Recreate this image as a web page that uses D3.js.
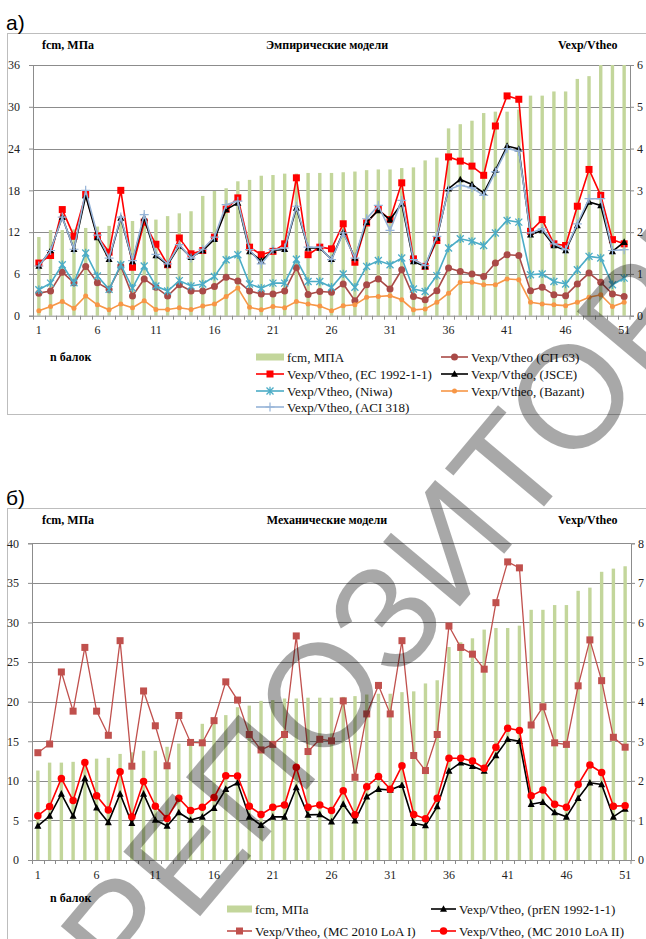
<!DOCTYPE html>
<html>
<head>
<meta charset="utf-8">
<script src="https://cdn.jsdelivr.net/npm/d3@7"></script>
<style>
  body { margin: 0; background: #fff; }
  svg { display: block; }
  text { font-family: 'Liberation Serif', 'Times New Roman', serif; }
</style>
</head>
<body>
<div id="chart_container"></div>
<script>
// categories (beam numbers)
const beams = d3.range(1, 52);
const xTickLabels = [1, 6, 11, 16, 21, 26, 31, 36, 41, 46, 51];

// axis ticks
const leftTicksA = [0, 6, 12, 18, 24, 30, 36];
const rightTicksA = [0, 1, 2, 3, 4, 5, 6];
const leftTicksB = [0, 5, 10, 15, 20, 25, 30, 35, 40];
const rightTicksB = [0, 1, 2, 3, 4, 5, 6, 7, 8];

// fcm, MPa (bars, same for both panels)
const fcm = [11.3, 12.3, 12.3, 12.4, 12.6, 12.8, 12.9, 13.4, 13.6, 13.8,
  13.8, 14.3, 14.7, 15.0, 17.2, 17.9, 18.3, 19.3, 19.5, 20.1,
  20.2, 20.4, 20.4, 20.5, 20.5, 20.5, 20.6, 20.7, 20.9, 21.0,
  21.0, 21.2, 21.3, 22.3, 22.7, 26.9, 27.5, 28.0, 29.1, 29.3,
  29.3, 29.6, 31.6, 31.6, 32.2, 32.2, 34.0, 34.4, 36.4, 36.8, 37.1];

// panel a) empirical models, Vexp/Vtheo
const sp63 = [0.54, 0.59, 1.04, 0.79, 1.18, 0.79, 0.63, 1.19, 0.47, 0.88,
  0.68, 0.47, 0.74, 0.59, 0.59, 0.70, 0.92, 0.83, 0.59, 0.52,
  0.52, 0.59, 1.15, 0.51, 0.58, 0.56, 0.76, 0.36, 0.74, 0.88,
  0.64, 1.10, 0.46, 0.38, 0.60, 1.14, 1.06, 1.00, 0.94, 1.26,
  1.46, 1.44, 0.60, 0.68, 0.50, 0.48, 0.76, 1.02, 0.80, 0.52, 0.46];
const ec2 = [1.26, 1.44, 2.54, 1.90, 2.90, 1.91, 1.52, 3.00, 1.16, 2.24,
  1.71, 1.22, 1.86, 1.48, 1.56, 1.88, 2.55, 2.82, 1.64, 1.46,
  1.54, 1.72, 3.30, 1.46, 1.64, 1.60, 2.20, 1.28, 2.22, 2.54,
  2.30, 3.18, 1.36, 1.18, 1.80, 3.80, 3.70, 3.58, 3.36, 4.54,
  5.26, 5.18, 2.02, 2.30, 1.72, 1.68, 2.62, 3.50, 2.88, 1.82, 1.72];
const jsce = [1.19, 1.56, 2.36, 1.59, 2.87, 1.87, 1.35, 2.34, 1.30, 2.34,
  1.44, 1.22, 1.67, 1.40, 1.56, 1.83, 2.54, 2.70, 1.54, 1.31,
  1.56, 1.59, 2.58, 1.62, 1.62, 1.35, 2.00, 1.38, 2.24, 2.52,
  2.30, 2.68, 1.30, 1.18, 1.86, 3.04, 3.26, 3.14, 2.94, 3.48,
  4.06, 3.99, 1.94, 2.04, 1.68, 1.56, 2.16, 2.72, 2.64, 1.54, 1.76];
const niwa = [0.62, 0.78, 1.22, 0.79, 1.50, 0.95, 0.63, 1.22, 0.66, 1.19,
  0.71, 0.59, 0.84, 0.71, 0.76, 0.94, 1.34, 1.46, 0.76, 0.66,
  0.78, 0.78, 1.35, 0.82, 0.82, 0.68, 1.00, 0.68, 1.18, 1.32,
  1.22, 1.38, 0.64, 0.58, 0.96, 1.62, 1.84, 1.78, 1.68, 1.98,
  2.28, 2.24, 0.98, 1.00, 0.82, 0.76, 1.10, 1.42, 1.38, 0.74, 0.90];
const bazant = [0.12, 0.22, 0.34, 0.18, 0.47, 0.26, 0.14, 0.28, 0.19, 0.36,
  0.15, 0.15, 0.19, 0.15, 0.23, 0.28, 0.46, 0.66, 0.20, 0.14,
  0.22, 0.19, 0.34, 0.28, 0.23, 0.12, 0.24, 0.26, 0.44, 0.46,
  0.48, 0.38, 0.14, 0.16, 0.32, 0.54, 0.80, 0.80, 0.74, 0.74,
  0.88, 0.86, 0.32, 0.28, 0.26, 0.24, 0.32, 0.44, 0.50, 0.22, 0.32];
const aci318 = [1.19, 1.56, 2.36, 1.59, 3.00, 1.93, 1.38, 2.36, 1.32, 2.42,
  1.47, 1.24, 1.70, 1.38, 1.59, 1.88, 2.66, 2.74, 1.58, 1.24,
  1.58, 1.62, 2.62, 1.64, 1.64, 1.34, 1.98, 1.38, 2.32, 2.64,
  2.04, 2.76, 1.34, 1.20, 1.90, 3.02, 3.12, 3.06, 2.88, 3.44,
  4.00, 3.94, 1.98, 2.08, 1.72, 1.58, 2.20, 2.80, 2.80, 1.56, 1.58];

// panel б) mechanical models, Vexp/Vtheo
const prEN = [0.86, 1.11, 1.67, 1.11, 2.06, 1.32, 0.95, 1.67, 0.93, 1.67,
  1.01, 0.86, 1.20, 1.01, 1.09, 1.31, 1.79, 1.95, 1.09, 0.88,
  1.09, 1.09, 1.83, 1.14, 1.15, 0.97, 1.41, 0.99, 1.60, 1.79,
  1.77, 1.89, 0.93, 0.87, 1.35, 2.25, 2.46, 2.37, 2.25, 2.64,
  3.05, 3.00, 1.41, 1.46, 1.20, 1.09, 1.56, 1.95, 1.91, 1.09, 1.29];
const mcLoA1 = [2.71, 2.93, 4.75, 3.76, 5.37, 3.76, 3.15, 5.54, 2.37, 4.27,
  3.39, 2.38, 3.65, 2.97, 2.96, 3.52, 4.50, 4.04, 3.17, 2.78,
  2.92, 3.17, 5.66, 2.74, 3.05, 3.01, 4.02, 2.09, 3.69, 4.41,
  3.69, 5.54, 2.64, 2.26, 3.17, 5.91, 5.37, 5.20, 4.82, 6.50,
  7.53, 7.38, 3.41, 3.87, 2.96, 2.92, 4.40, 5.56, 4.53, 3.10, 2.85];
const mcLoA2 = [1.12, 1.35, 2.06, 1.50, 2.46, 1.62, 1.26, 2.23, 1.09, 1.98,
  1.36, 1.05, 1.56, 1.25, 1.33, 1.58, 2.13, 2.12, 1.36, 1.15,
  1.33, 1.39, 2.34, 1.33, 1.39, 1.25, 1.75, 1.14, 1.85, 2.11,
  1.79, 2.38, 1.15, 1.04, 1.56, 2.57, 2.57, 2.50, 2.32, 2.85,
  3.33, 3.27, 1.62, 1.77, 1.41, 1.33, 1.91, 2.40, 2.21, 1.36, 1.37];

const W = 646;
const H = 939;
const BAR_COLOR = '#c3d69b';
const GRID_COLOR = '#8c8c8c';

const svg = d3
  .select('#chart_container')
  .append('svg')
  .attr('width', W)
  .attr('height', H);

// marker path drawer
function marker(sel, type, size, color) {
  const s = size / 2;
  if (type === 'square') {
    sel.append('rect').attr('x', -s).attr('y', -s).attr('width', size).attr('height', size).attr('fill', color);
  } else if (type === 'circle') {
    sel.append('circle').attr('r', s).attr('fill', color);
  } else if (type === 'triangle') {
    sel.append('path').attr('d', `M0,${-s * 1.1}L${s},${s * 0.8}L${-s},${s * 0.8}Z`).attr('fill', color);
  } else if (type === 'star') {
    sel.append('path')
      .attr('d', `M${-s},${-s}L${s},${s}M${-s},${s}L${s},${-s}M0,${-s * 1.2}L0,${s * 1.2}`)
      .attr('stroke', color).attr('stroke-width', 1.3).attr('fill', 'none');
  } else if (type === 'plus') {
    sel.append('path')
      .attr('d', `M${-s},0L${s},0M0,${-s}L0,${s}`)
      .attr('stroke', color).attr('stroke-width', 1.2).attr('fill', 'none');
  }
}

function drawPanel(p) {
  const g = svg.append('g');
  const x = d3.scaleBand().domain(beams).range([p.left, p.right]);
  const cx = (d) => x(d) + x.bandwidth() / 2;
  const yL = d3.scaleLinear().domain([0, p.leftMax]).range([p.bottom, p.top]).clamp(true);
  const yR = d3.scaleLinear().domain([0, p.rightMax]).range([p.bottom, p.top]);

  // frame
  g.append('rect')
    .attr('x', 7.5).attr('y', p.frameTop + 0.5)
    .attr('width', 700).attr('height', p.frameH)
    .attr('fill', 'none').attr('stroke', '#bdbdbd');

  // panel letter
  g.append('text')
    .attr('x', 6).attr('y', p.frameTop - 3)
    .style('font-family', "'Liberation Sans', Arial, sans-serif")
    .style('font-size', '21px')
    .text(p.letter);

  // header texts
  const head = g.append('g').style('font-weight', 'bold').style('font-size', '12px');
  head.append('text').attr('x', 42).attr('y', p.frameTop + 16).text('fcm, МПа');
  head.append('text').attr('x', 327).attr('y', p.frameTop + 16).attr('text-anchor', 'middle').text(p.title);
  head.append('text').attr('x', 558).attr('y', p.frameTop + 16).text('Vexp/Vtheo');

  // gridlines
  g.append('g')
    .selectAll('line')
    .data(p.leftTicks.slice(1))
    .join('line')
    .attr('x1', p.left).attr('x2', p.right)
    .attr('y1', (d) => Math.round(yL(d)) + 0.5).attr('y2', (d) => Math.round(yL(d)) + 0.5)
    .attr('stroke', GRID_COLOR).attr('stroke-width', 1);

  // draw bars
  g.append('g')
    .selectAll('rect')
    .data(beams)
    .join('rect')
    .attr('x', (d) => cx(d) - 1.7)
    .attr('width', 3.4)
    .attr('y', (d) => yL(fcm[d - 1]))
    .attr('height', (d) => p.bottom - yL(fcm[d - 1]))
    .attr('fill', BAR_COLOR);

  // axes
  const axisLeft = d3.axisLeft(yL).tickValues(p.leftTicks).tickFormat(d3.format('d')).tickSize(4).tickPadding(9);
  const gl = g.append('g').attr('transform', `translate(${p.left},0)`).call(axisLeft);
  const axisRight = d3.axisRight(yR).tickValues(p.rightTicks).tickFormat(d3.format('d')).tickSize(4).tickPadding(3);
  const gr = g.append('g').attr('transform', `translate(${p.right},0)`).call(axisRight);
  const axisBottom = d3.axisBottom(x)
    .tickValues(xTickLabels).tickSize(0).tickPadding(10);
  const gb = g.append('g').attr('transform', `translate(0,${p.bottom})`).call(axisBottom);
  [gl, gr, gb].forEach((a) => {
    a.select('.domain').attr('stroke', GRID_COLOR);
    a.selectAll('.tick line').attr('stroke', GRID_COLOR);
    a.selectAll('text')
      .style('font-family', "'Liberation Serif', 'Times New Roman', serif")
      .style('font-size', '12px')
      .attr('fill', '#222');
  });
  gb.select('.domain').attr('d', `M${p.left},0.5H${p.right}`);
  // category boundary ticks
  g.append('g')
    .selectAll('line')
    .data(beams.concat([52]))
    .join('line')
    .attr('x1', (d) => (d === 52 ? p.right : Math.round(x(d)) + 0.5))
    .attr('x2', (d) => (d === 52 ? p.right : Math.round(x(d)) + 0.5))
    .attr('y1', p.bottom).attr('y2', p.bottom + 4)
    .attr('stroke', GRID_COLOR);

  // series lines
  p.series.forEach((s) => {
    const line = d3.line().x((d, i) => cx(beams[i])).y((d) => yR(d));
    g.append('path')
      .datum(s.values)
      .attr('d', line)
      .attr('fill', 'none')
      .attr('stroke', s.color)
      .attr('stroke-width', s.width || 1.6);
    g.append('g')
      .selectAll('g')
      .data(s.values)
      .join('g')
      .attr('transform', (d, i) => `translate(${cx(beams[i])},${yR(d)})`)
      .each(function () {
        marker(d3.select(this), s.marker, s.size, s.markerColor || s.color);
      });
  });

  // x caption
  g.append('text')
    .attr('x', 50).attr('y', p.captionY)
    .style('font-weight', 'bold').style('font-size', '12px')
    .text('n балок');

  // legend
  const leg = g.append('g').style('font-size', '13px');
  p.legend.forEach((l) => {
    const it = leg.append('g').attr('transform', `translate(${l.x},${l.y})`);
    if (l.bar) {
      it.append('rect').attr('x', 0).attr('y', -3.5).attr('width', l.w).attr('height', 7).attr('fill', BAR_COLOR);
    } else {
      it.append('line').attr('x1', 0).attr('x2', l.w).attr('y1', 0).attr('y2', 0)
        .attr('stroke', l.s.color).attr('stroke-width', 1.6);
      marker(it.append('g').attr('transform', `translate(${l.w / 2},0)`), l.s.marker, l.s.size, l.s.markerColor || l.s.color);
    }
    it.append('text').attr('x', l.w + 3).attr('y', 4.5).attr('fill', '#111').text(l.label);
  });
}

// panel a)
const sA = {
  sp63: { values: sp63, color: '#a94a47', marker: 'circle', size: 7 },
  ec: { values: ec2, color: '#ff0000', marker: 'square', size: 7 },
  jsce: { values: jsce, color: '#000000', marker: 'triangle', size: 7 },
  niwa: { values: niwa, color: '#4bacc6', marker: 'star', size: 7 },
  bazant: { values: bazant, color: '#f79646', marker: 'circle', size: 5 },
  aci: { values: aci318, color: '#95b3d7', marker: 'plus', size: 9 },
};
drawPanel({
  letter: 'а)',
  title: 'Эмпирические модели',
  frameTop: 33, frameH: 381,
  left: 33, right: 630, top: 65, bottom: 315.7,
  leftMax: 36, rightMax: 6,
  leftTicks: leftTicksA, rightTicks: rightTicksA,
  captionY: 361,
  series: [sA.sp63, sA.ec, sA.jsce, sA.niwa, sA.bazant, sA.aci],
  legend: [
    { x: 256, y: 357, w: 28, bar: true, label: 'fcm, МПА' },
    { x: 441, y: 357, w: 27, s: sA.sp63, label: 'Vexp/Vtheo (СП 63)' },
    { x: 256, y: 374, w: 28, s: sA.ec, label: 'Vexp/Vtheo, (EC 1992-1-1)' },
    { x: 441, y: 374, w: 27, s: sA.jsce, label: 'Vexp/Vtheo, (JSCE)' },
    { x: 256, y: 391, w: 28, s: sA.niwa, label: 'Vexp/Vtheo, (Niwa)' },
    { x: 441, y: 391, w: 27, s: sA.bazant, label: 'Vexp/Vtheo, (Bazant)' },
    { x: 256, y: 407, w: 28, s: sA.aci, label: 'Vexp/Vtheo, (ACI 318)' },
  ],
});

// panel б)
const sB = {
  pren: { values: prEN, color: '#000000', marker: 'triangle', size: 7 },
  loa1: { values: mcLoA1, color: '#c0504d', marker: 'square', size: 7, width: 1.3 },
  loa2: { values: mcLoA2, color: '#ff0000', marker: 'circle', size: 7.5 },
};
drawPanel({
  letter: 'б)',
  title: 'Механические модели',
  frameTop: 508, frameH: 500,
  left: 32, right: 631, top: 543.3, bottom: 860,
  leftMax: 40, rightMax: 8,
  leftTicks: leftTicksB, rightTicks: rightTicksB,
  captionY: 902,
  series: [sB.pren, sB.loa1, sB.loa2],
  legend: [
    { x: 227, y: 909, w: 25, bar: true, label: 'fcm, МПа' },
    { x: 431, y: 909, w: 25, s: sB.pren, label: 'Vexp/Vtheo, (prEN 1992-1-1)' },
    { x: 227, y: 931, w: 25, s: sB.loa1, label: 'Vexp/Vtheo, (MC 2010 LoA I)' },
    { x: 431, y: 931, w: 25, s: sB.loa2, label: 'Vexp/Vtheo, (MC 2010 LoA II)' },
  ],
});

// watermark
svg.append('text')
  .attr('transform', 'translate(130,1000) rotate(-50)')
  .style('font-family', "'Liberation Sans', Arial, sans-serif")
  .style('font-size', '146px')
  .attr('fill', '#000')
  .attr('fill-opacity', 0.34)
  .text('РЕПОЗИТОРИЙ');
</script>
</body>
</html>
